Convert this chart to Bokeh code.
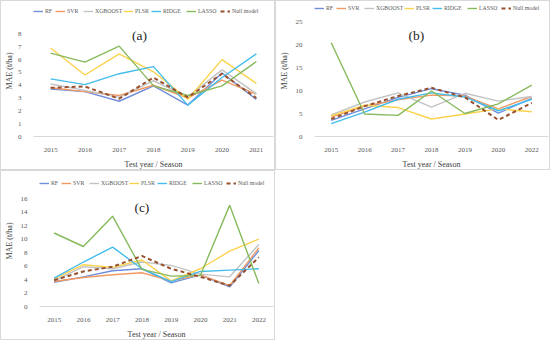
from bokeh.plotting import figure
from bokeh.models import FactorRange, Range1d, FixedTicker, Legend, LegendItem, Label
from bokeh.layouts import row, column
from bokeh.embed import file_html
from bokeh.resources import INLINE

# ---------------- data ----------------
series_names = ["RF", "SVR", "XGBOOST", "PLSR", "RIDGE", "LASSO", "Null model"]

years_a = ["2015", "2016", "2017", "2018", "2019", "2020", "2021"]
rf_a = [3.7, 3.5, 2.75, 3.95, 2.45, 4.95, 2.9]
svr_a = [3.8, 3.5, 3.2, 4.0, 3.0, 4.4, 3.3]
xgb_a = [4.1, 3.6, 3.05, 4.35, 3.1, 5.2, 3.35]
plsr_a = [6.9, 4.8, 6.45, 5.05, 2.9, 6.0, 4.15]
ridge_a = [4.5, 4.05, 4.9, 5.45, 2.45, 4.6, 6.45]
lasso_a = [6.5, 5.8, 7.05, 3.95, 3.2, 3.95, 5.85]
null_a = [3.8, 3.9, 2.95, 4.6, 3.05, 4.9, 3.0]
yticks_a = [0, 1, 2, 3, 4, 5, 6, 7, 8]

years_b = ["2015", "2016", "2017", "2018", "2019", "2020", "2022"]
rf_b = [3.5, 6.0, 8.5, 10.4, 9.0, 5.1, 8.3]
svr_b = [4.2, 6.6, 8.0, 9.0, 8.8, 6.0, 8.7]
xgb_b = [4.7, 7.5, 9.5, 6.4, 9.4, 7.7, 8.7]
plsr_b = [4.5, 6.8, 6.3, 3.8, 4.9, 6.0, 5.4]
ridge_b = [2.8, 5.3, 8.1, 9.5, 8.6, 5.6, 8.1]
lasso_b = [20.4, 4.9, 4.6, 9.9, 5.0, 7.1, 11.2]
null_b = [3.8, 6.6, 8.8, 10.6, 8.5, 3.6, 7.3]
yticks_b = [0, 5, 10, 15, 20, 25]

years_c = ["2015", "2016", "2017", "2018", "2019", "2020", "2021", "2022"]
rf_c = [3.6, 4.4, 5.3, 5.6, 3.5, 4.7, 2.9, 8.3]
svr_c = [3.7, 4.3, 4.7, 5.0, 3.8, 4.7, 3.1, 8.7]
xgb_c = [3.8, 5.9, 5.6, 6.6, 6.1, 4.8, 4.4, 9.2]
plsr_c = [4.1, 6.2, 5.8, 6.9, 3.8, 5.6, 8.2, 10.0]
ridge_c = [4.2, 6.6, 8.8, 5.6, 3.7, 5.2, 5.4, 5.6]
lasso_c = [10.9, 8.9, 13.4, 5.5, 4.5, 4.6, 15.0, 3.4]
null_c = [3.9, 5.2, 5.9, 7.5, 5.6, 4.4, 3.1, 7.3]
yticks_c = [0, 2, 4, 6, 8, 10, 12, 14, 16]

colors = ["#6F8EDB", "#F19A66", "#C3C3C3", "#FBD24E", "#44BDEB", "#86BA5C", "#97512F"]

FONT = "Liberation Serif"
W, H = 275, 170
LEG_X = [0, 22, 50, 90, 118, 153, 187]   # legend entry offsets (px)


def make_panel(years, series, yticks, yend, tag, tag_x, tag_y,
               frame, leg_y, ylab_standoff):
    left, right, top, bottom = frame
    p = figure(width=W, height=H, output_backend="svg", toolbar_location=None,
               x_range=FactorRange(*years, range_padding=0),
               y_range=Range1d(0, yend),
               min_border_left=left, min_border_right=right,
               min_border_top=top, min_border_bottom=bottom)
    p.styles = {"border": "1px solid #D9D9D9", "box-sizing": "border-box"}
    p.outline_line_color = None
    p.xgrid.grid_line_color = None
    p.ygrid.grid_line_color = None
    p.background_fill_color = "white"
    p.border_fill_color = "white"

    for i, (name, vals, col) in enumerate(zip(series_names, series, colors)):
        if name == "Null model":
            r = p.line(years, vals, line_color=col, line_width=2,
                       line_dash="4 3")
        else:
            r = p.line(years, vals, line_color=col, line_width=1.4)
        leg = Legend(items=[LegendItem(label=name, renderers=[r])],
                     orientation="horizontal", location=(LEG_X[i], leg_y),
                     glyph_width=10, glyph_height=8, label_standoff=2,
                     padding=0, margin=0, border_line_color=None,
                     background_fill_alpha=0,
                     label_text_font=FONT, label_text_font_size="5.8px",
                     label_text_color="#595959", label_height=8)
        p.add_layout(leg, "center")

    xa = p.xaxis[0]
    xa.axis_line_color = "#D9D9D9"
    xa.major_tick_line_color = None
    xa.minor_tick_line_color = None
    xa.major_label_text_font = FONT
    xa.major_label_text_font_size = "7px"
    xa.major_label_text_color = "#595959"
    xa.major_label_standoff = 5
    xa.axis_label = "Test year / Season"
    xa.axis_label_text_font = FONT
    xa.axis_label_text_font_style = "normal"
    xa.axis_label_text_font_size = "8px"
    xa.axis_label_text_color = "#404040"
    xa.axis_label_standoff = 5

    ya = p.yaxis[0]
    ya.ticker = FixedTicker(ticks=yticks)
    ya.axis_line_color = None
    ya.major_tick_line_color = None
    ya.minor_tick_line_color = None
    ya.major_label_text_font = FONT
    ya.major_label_text_font_size = "7px"
    ya.major_label_text_color = "#595959"
    ya.major_label_standoff = 6
    ya.axis_label = "MAE (t/ha)"
    ya.axis_label_text_font = FONT
    ya.axis_label_text_font_style = "normal"
    ya.axis_label_text_font_size = "8px"
    ya.axis_label_text_color = "#404040"
    ya.axis_label_standoff = ylab_standoff

    p.add_layout(Label(x=tag_x, y=tag_y, text=tag, text_font=FONT,
                       text_font_size="13.5px", text_color="#262626",
                       text_align="center", text_baseline="middle"))
    return p


# frame = (min_border_left, right, top, bottom); the y range runs above the
# last tick so that the legend row sits inside the plot frame
pa = make_panel(years_a, [rf_a, svr_a, xgb_a, plsr_a, ridge_a, lasso_a, null_a],
                yticks_a, 10.22, "(a)", 3.09, 7.85, (32, 3, 4, 31), 121, 1)
pb = make_panel(years_b, [rf_b, svr_b, xgb_b, plsr_b, ridge_b, lasso_b, null_b],
                yticks_b, 28.5, "(b)", 3.05, 22.0, (31, 3, 4, 30), 124.3, 4)
pc = make_panel(years_c, [rf_c, svr_c, xgb_c, plsr_c, ridge_c, lasso_c, null_c],
                yticks_c, 19.43, "(c)", 3.5, 14.7, (34, 3, 4, 34), 118.7, 4)

layout = column(row(pa, pb, spacing=0), pc, spacing=0)

open("out.html", "w").write(file_html(layout, INLINE))
